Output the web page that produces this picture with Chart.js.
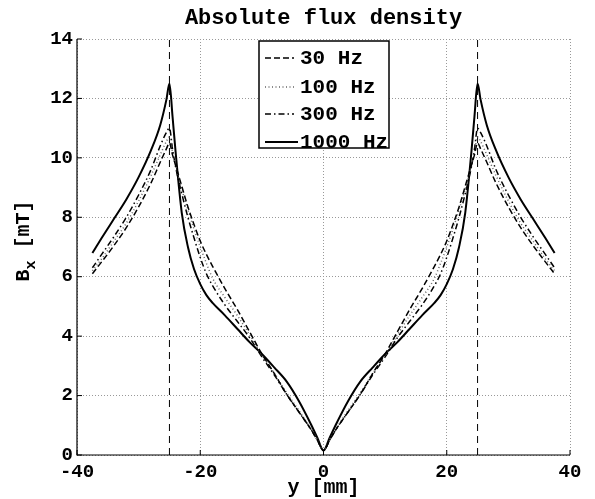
<!DOCTYPE html>
<html><head><meta charset="utf-8">
<script src="https://cdn.jsdelivr.net/npm/chart.js@4.4.0/dist/chart.umd.min.js"></script>
<style>html,body{margin:0;padding:0;background:#fff}</style>
</head><body>
<canvas id="c" width="595" height="499" style="width:595px;height:499px;display:block"></canvas>
<script>
// ---- data ----
const chartTitle = "Absolute flux density";
const xTitle = "y [mm]";
const yTitleMain = "B", yTitleSub = "x", yTitleUnit = " [mT]";
const seriesNames = ["30 Hz", "100 Hz", "300 Hz", "1000 Hz"];
const xTicks = [-40, -20, 0, 20, 40];
const yTicks = [0, 2, 4, 6, 8, 10, 12, 14];
const edgePositions = [-25, 25];

const yPos = [-37.5,-36,-34,-32,-30,-28,-26.5,-25.5,-25,-24.5,-24,-23,-22,-21,-20,-19,-18,-16,-14,-12,-10,-8,-6,-4,-2,-1,0,
              1,2,4,6,8,10,12,14,16,18,19,20,21,22,23,24,24.5,25,25.5,26.5,28,30,32,34,36,37.5];

const hz30   = [6.1,6.5,7.05,7.65,8.35,9.15,9.85,10.3,10.5,10.1,9.75,9.05,8.35,7.75,7.2,6.75,6.35,5.6,4.9,4.15,3.4,2.75,2.05,1.45,0.85,0.5,0.15,
                0.5,0.85,1.45,2.05,2.75,3.4,4.15,4.9,5.6,6.35,6.75,7.2,7.75,8.35,9.05,9.75,10.1,10.5,10.3,9.85,9.15,8.35,7.65,7.05,6.5,6.1];
const hz100  = [6.2,6.6,7.2,7.8,8.55,9.4,10.1,10.55,10.7,10.2,9.75,8.95,8.25,7.6,7.0,6.45,5.95,5.3,4.7,4.05,3.35,2.75,2.1,1.5,0.88,0.52,0.15,
                0.52,0.88,1.5,2.1,2.75,3.35,4.05,4.7,5.3,5.95,6.45,7.0,7.6,8.25,8.95,9.75,10.2,10.7,10.55,10.1,9.4,8.55,7.8,7.2,6.6,6.2];
const hz300  = [6.3,6.75,7.35,8.0,8.75,9.6,10.4,10.85,11.0,10.3,9.7,8.8,8.0,7.3,6.65,6.1,5.7,5.05,4.5,3.95,3.3,2.7,2.05,1.45,0.85,0.5,0.15,
                0.5,0.85,1.45,2.05,2.7,3.3,3.95,4.5,5.05,5.7,6.1,6.65,7.3,8.0,8.8,9.7,10.3,11.0,10.85,10.4,9.6,8.75,8.0,7.35,6.75,6.3];
const hz1000 = [6.8,7.3,7.95,8.6,9.35,10.25,11.1,11.95,12.5,11.4,10.2,8.15,7.0,6.25,5.75,5.38,5.12,4.7,4.25,3.8,3.4,2.95,2.48,1.82,1.02,0.58,0.15,
                0.58,1.02,1.82,2.48,2.95,3.4,3.8,4.25,4.7,5.12,5.38,5.75,6.25,7.0,8.15,10.2,11.4,12.5,11.95,11.1,10.25,9.35,8.6,7.95,7.3,6.8];

// ---- chart ----
const FONT = "'Liberation Mono', 'DejaVu Sans Mono', monospace";
const pts = arr => arr.map((v, i) => ({x: yPos[i], y: v}));
const styles = [
  {borderDash: [6, 3], borderWidth: 1.5, borderColor: '#000'},
  {borderDash: [1, 2.5], borderWidth: 1.5, borderColor: '#666'},
  {borderDash: [6, 3, 1.5, 3], borderWidth: 1.5, borderColor: '#000'},
  {borderDash: [], borderWidth: 2, borderColor: '#000'}
];
const seriesData = [hz30, hz100, hz300, hz1000];

const datasets = seriesData.map((s, i) => Object.assign({
  label: seriesNames[i], data: pts(s), pointRadius: 0, cubicInterpolationMode: 'monotone', fill: false
}, styles[i]));
edgePositions.forEach(e => datasets.push({
  label: 'edge', data: [{x: e, y: yTicks[0]}, {x: e, y: yTicks[yTicks.length - 1]}],
  pointRadius: 0, borderColor: '#000', borderWidth: 1, borderDash: [7, 5], fill: false
}));

const deco = {
  id: 'deco',
  afterDraw(chart) {
    const ctx = chart.ctx, a = chart.chartArea;
    ctx.save();
    // axes lines (left & bottom)
    ctx.strokeStyle = '#000'; ctx.lineWidth = 1.2; ctx.setLineDash([]);
    ctx.beginPath();
    ctx.moveTo(a.left, a.top); ctx.lineTo(a.left, a.bottom); ctx.lineTo(a.right, a.bottom);
    ctx.stroke();
    // small inward ticks
    ctx.lineWidth = 1;
    const xs = chart.scales.x, ys = chart.scales.y;
    xTicks.forEach(t => { const px = xs.getPixelForValue(t); ctx.beginPath(); ctx.moveTo(px, a.bottom); ctx.lineTo(px, a.bottom - 5); ctx.stroke(); });
    yTicks.forEach(t => { const py = ys.getPixelForValue(t); ctx.beginPath(); ctx.moveTo(a.left, py); ctx.lineTo(a.left + 5, py); ctx.stroke(); });

    // title
    ctx.fillStyle = '#000';
    ctx.font = "bold 22px " + FONT;
    ctx.textAlign = 'center'; ctx.textBaseline = 'middle';
    ctx.fillText(chartTitle, (a.left + a.right) / 2, 18);
    // x title
    ctx.font = "bold 20px " + FONT;
    ctx.fillText(xTitle, (a.left + a.right) / 2, 488);
    // y title rotated with subscript
    ctx.save();
    ctx.translate(24, (a.top + a.bottom) / 2 - 6);
    ctx.rotate(-Math.PI / 2);
    ctx.textAlign = 'left'; ctx.textBaseline = 'middle';
    ctx.font = "bold 20px " + FONT;
    const wB = ctx.measureText(yTitleMain).width;
    ctx.font = "bold 15px " + FONT;
    const wx = ctx.measureText(yTitleSub).width;
    ctx.font = "bold 20px " + FONT;
    const wU = ctx.measureText(yTitleUnit).width;
    let x0 = -(wB + wx + wU) / 2;
    ctx.fillText(yTitleMain, x0, 0);
    ctx.font = "bold 15px " + FONT;
    ctx.fillText(yTitleSub, x0 + wB, 7);
    ctx.font = "bold 20px " + FONT;
    ctx.fillText(yTitleUnit, x0 + wB + wx, 0);
    ctx.restore();

    // legend box
    const bx = 259, by = 41, bw = 130, bh = 107;
    ctx.fillStyle = '#fff';
    ctx.fillRect(bx, by, bw, bh);
    ctx.strokeStyle = '#000'; ctx.lineWidth = 1.5; ctx.setLineDash([]);
    ctx.strokeRect(bx, by, bw, bh);
    const rows = [58, 87, 114, 142];
    ctx.font = "bold 21px " + FONT;
    ctx.textAlign = 'left'; ctx.textBaseline = 'middle';
    seriesNames.forEach((n, i) => {
      const st = styles[i];
      ctx.strokeStyle = st.borderColor; ctx.lineWidth = st.borderWidth; ctx.setLineDash(st.borderDash);
      ctx.beginPath(); ctx.moveTo(265, rows[i]); ctx.lineTo(i === 3 ? 298 : 294, rows[i]); ctx.stroke();
      ctx.setLineDash([]);
      ctx.fillStyle = '#000';
      ctx.fillText(n, 300, rows[i] + 1);
    });
    ctx.restore();
  }
};

new Chart(document.getElementById('c'), {
  type: 'line',
  data: {datasets},
  options: {
    responsive: false, animation: false, devicePixelRatio: 1,
    layout: {padding: {top: 39, right: 25, left: 0, bottom: 0}},
    plugins: {legend: {display: false}, title: {display: false}, tooltip: {enabled: false}},
    scales: {
      x: {
        type: 'linear', min: xTicks[0], max: xTicks[xTicks.length - 1],
        afterFit: s => { s.height = 44; },
        afterBuildTicks: s => { s.ticks = xTicks.map(v => ({value: v})); },
        ticks: {font: {family: FONT, size: 19, weight: 'bold'}, color: '#000', padding: 6, maxRotation: 0},
        grid: {color: '#999', lineWidth: 1, drawTicks: false},
        border: {display: false, dash: [1, 2]}
      },
      y: {
        type: 'linear', min: yTicks[0], max: yTicks[yTicks.length - 1],
        afterFit: s => { s.width = 77; },
        afterBuildTicks: s => { s.ticks = yTicks.map(v => ({value: v})); },
        ticks: {font: {family: FONT, size: 19, weight: 'bold'}, color: '#000', padding: 4},
        grid: {color: '#999', lineWidth: 1, drawTicks: false},
        border: {display: false, dash: [1, 2]}
      }
    }
  },
  plugins: [deco]
});
</script>
</body></html>
